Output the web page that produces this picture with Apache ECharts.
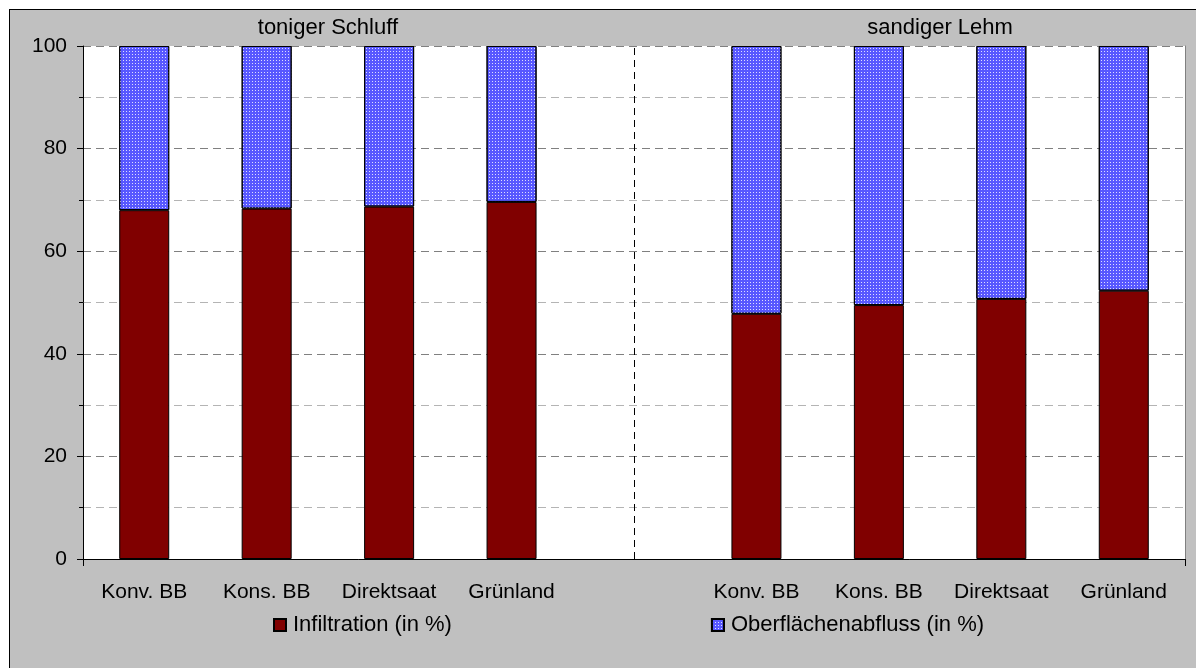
<!DOCTYPE html>
<html>
<head>
<meta charset="utf-8">
<script src="https://cdn.jsdelivr.net/npm/echarts@6/dist/echarts.min.js"></script>
<style>
  html, body { margin: 0; padding: 0; background: #ffffff; }
  #panel {
    position: absolute; left: 9px; top: 9px; right: 0; bottom: 0;
    background: #c0c0c0; border-left: 1px solid #000; border-top: 1px solid #000;
  }
  #chart { position: absolute; left: 0; top: 0; width: 1196px; height: 668px; }
</style>
</head>
<body>
<div id="panel"></div>
<div id="chart"></div>
<script>
// Land use categories; the empty slot separates the two soil types
const categories = ['Konv. BB', 'Kons. BB', 'Direktsaat', 'Grünland', '',
                    'Konv. BB', 'Kons. BB', 'Direktsaat', 'Grünland'];
const soilGroups = ['toniger Schluff', 'sandiger Lehm'];
const groupSize = 4;
const seriesNames = ['Infiltration (in %)', 'Oberflächenabfluss (in %)'];
const infiltration = [68.0, 68.3, 68.7, 69.6, null, 47.8, 49.5, 50.7, 52.3];
const runoff       = [32.0, 31.7, 31.3, 30.4, null, 52.2, 50.5, 49.3, 47.7];
const yTicks = [0, 20, 40, 60, 80, 100];

const FONT = '"Liberation Sans", Arial, sans-serif';

// Fine white dot grid over blue for the runoff bars
const dotDecal = {
  symbol: 'rect',
  symbolSize: 1,
  dashArrayX: [1, 2],
  dashArrayY: [1, 2],
  color: 'rgba(255,255,255,0.8)',
  rotation: 0
};

// Group label positions: middle of each block of land-use categories
const groupCenters = soilGroups.map((_, i) => i * (groupSize + 1) + groupSize / 2);

const chart = echarts.init(document.getElementById('chart'), null, { renderer: 'canvas' });
chart.setOption({
  backgroundColor: 'transparent',
  animation: false,
  textStyle: { fontFamily: FONT },
  grid: {
    left: 83, right: 11, top: 46, bottom: 109,
    show: true, backgroundColor: '#ffffff', borderWidth: 0
  },
  legend: {
    data: seriesNames,
    left: 273, top: 614, padding: 0,
    icon: 'rect',
    itemWidth: 12, itemHeight: 12, itemGap: 259,
    textStyle: { fontSize: 22, color: '#000', fontFamily: FONT, padding: [0, 0, 0, 2] }
  },
  xAxis: [{
    type: 'category',
    data: categories,
    axisLine: { lineStyle: { color: '#000', width: 1 } },
    axisTick: { show: true, interval: i => i === 0, length: 7, lineStyle: { color: '#000' } },
    axisLabel: { fontSize: 21, color: '#000', margin: 23, interval: 0, fontFamily: FONT },
    splitLine: { show: false }
  }, {
    type: 'value',
    position: 'top',
    min: 0, max: categories.length, interval: 1,
    axisLine: { show: false }, axisTick: { show: false }, splitLine: { show: false },
    axisLabel: {
      fontSize: 22, color: '#000', margin: 7, fontFamily: FONT,
      formatter: v => {
        const i = groupCenters.indexOf(v);
        return i >= 0 ? soilGroups[i] : '';
      }
    }
  }],
  yAxis: [{
    type: 'value',
    min: yTicks[0], max: yTicks[yTicks.length - 1], interval: yTicks[1] - yTicks[0],
    axisLine: { show: true, lineStyle: { color: '#000', width: 1 } },
    axisTick: { show: true, length: 6, lineStyle: { color: '#000' } },
    minorTick: { show: true, splitNumber: 2, length: 4, lineStyle: { color: '#000' } },
    axisLabel: { fontSize: 21, color: '#000', margin: 16, fontFamily: FONT },
    splitLine: { show: true, lineStyle: { color: '#808080', type: [8, 5], width: 1 } },
    minorSplitLine: { show: true, lineStyle: { color: '#b4b4b4', type: [8, 5], width: 1 } }
  }, {
    type: 'value',
    position: 'right',
    min: 0, max: 100,
    axisLine: { show: true, lineStyle: { color: '#808080', width: 1 } },
    axisTick: { show: false }, axisLabel: { show: false }, splitLine: { show: false }
  }],
  series: [{
    name: seriesNames[0],
    type: 'bar',
    stack: 'total',
    barWidth: 50,
    data: infiltration,
    itemStyle: { color: '#800000', borderColor: '#000', borderWidth: 1 },
    markLine: {
      silent: true,
      symbol: 'none',
      label: { show: false },
      lineStyle: { color: '#000', type: [7, 5], width: 1 },
      data: [{ xAxis: categories.indexOf('') }]
    }
  }, {
    name: seriesNames[1],
    type: 'bar',
    stack: 'total',
    barWidth: 50,
    data: runoff,
    itemStyle: { color: '#5858ff', borderColor: '#000', borderWidth: 1, decal: dotDecal }
  }]
});
</script>
</body>
</html>
